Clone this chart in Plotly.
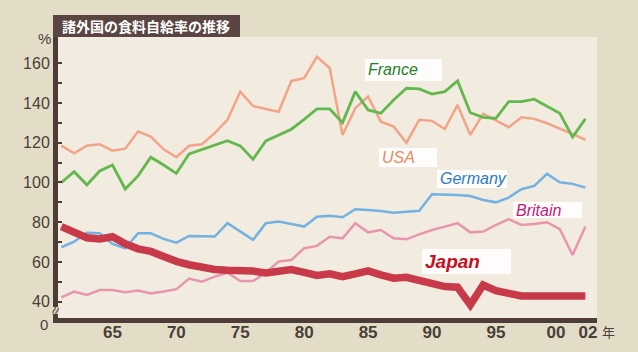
import plotly.graph_objects as go

years = list(range(1961, 2003))

usa = [118.5, 114.7, 118.5, 119.2, 116.0, 117.0, 125.6, 123.1, 116.7, 112.7,
       118.5, 119.2, 124.8, 131.5, 145.7, 138.5, 137.0, 135.6, 151.1, 152.5,
       163.3, 157.5, 123.9, 137.4, 143.2, 130.6, 128.1, 120.0, 131.5, 131.0,
       126.9, 139.0, 123.9, 134.5, 131.2, 127.8, 132.8, 132.0, 129.8, 127.3,
       124.4, 121.4]
france = [99.9, 105.4, 98.8, 105.8, 108.8, 96.7, 103.3, 112.7, 108.8, 104.6,
          114.4, 116.7, 118.9, 121.0, 118.4, 111.7, 120.9, 123.9, 126.8, 131.8,
          137.0, 137.0, 130.1, 145.7, 136.5, 134.8, 141.5, 147.4, 147.1, 144.5,
          145.7, 151.1, 135.1, 132.8, 132.3, 140.7, 140.7, 141.9, 138.5, 134.8,
          122.8, 132.0]
germany = [67.4, 70.2, 74.7, 74.4, 69.1, 66.9, 74.4, 74.4, 71.6, 69.7,
           73.1, 72.8, 72.8, 79.5, 75.3, 71.1, 79.5, 80.3, 79.1, 77.8,
           82.8, 83.3, 82.5, 86.5, 86.2, 85.7, 84.8, 85.3, 85.8, 94.1,
           94.0, 93.7, 93.2, 91.2, 90.0, 92.4, 96.6, 98.3, 104.3, 100.1,
           99.3, 97.4]
britain = [42.2, 45.1, 43.4, 45.9, 45.9, 44.8, 45.6, 44.2, 45.1, 46.3,
           51.6, 50.1, 52.6, 54.6, 50.4, 50.4, 54.6, 60.2, 61.0, 66.9,
           68.1, 72.7, 71.9, 79.5, 74.9, 76.1, 71.9, 71.4, 73.9, 76.1,
           77.8, 79.5, 74.9, 75.3, 78.6, 81.6, 78.6, 79.1, 80.0, 76.5,
           63.5, 77.8]
japan = [77.8, 75.3, 72.2, 71.6, 72.7, 69.1, 66.6, 65.3, 62.5, 60.3,
         58.6, 57.3, 56.2, 55.8, 55.8, 55.4, 54.5, 55.8, 56.2, 54.8,
         53.2, 54.0, 52.6, 54.0, 55.5, 53.5, 51.8, 52.3, 50.9, 49.3,
         47.6, 47.3, 38.4, 48.4, 45.6, 44.2, 42.9, 42.9, 42.9, 42.9,
         42.9, 42.9]

# tick label positions (the last two labels are spread slightly apart, as in the original)
x_tickvals = [1965, 1970, 1975, 1980, 1985, 1990, 1995, 1999.7, 2002.2]
x_ticktext = ["65", "70", "75", "80", "85", "90", "95", "00", "02"]
y_tickvals = [40, 50, 60, 70, 80, 90, 100, 110, 120, 130, 140, 150, 160]
y_ticktext = ["40", "", "60", "", "80", "", "100", "", "120", "", "140", "", "160"]

title_text = "諸外国の食料自給率の推移"

W, H = 638, 352
ML, MR, MT, MB = 58, 41, 37, 34
PW, PH = W - ML - MR, H - MT - MB

def px(x):
    return (x - ML) / PW

def py(y):
    return (H - MB - y) / PH

OUTER = "#e3ddc8"
INNER = "#f2ebe0"
DARK = "#4e3c38"

fig = go.Figure()
series = [
    ("USA", usa, "#f2a488", 2.5),
    ("France", france, "#62b84c", 2.8),
    ("Germany", germany, "#72b2e2", 2.5),
    ("Britain", britain, "#e896ae", 2.5),
    ("Japan", japan, "#c83a4a", 7.5),
]
for name, vals, col, w in series:
    fig.add_trace(go.Scatter(x=years, y=vals, mode="lines", name=name,
                             line=dict(color=col, width=w), hoverinfo="skip"))

fig.update_layout(
    width=W, height=H,
    margin=dict(l=ML, r=MR, t=MT, b=MB, autoexpand=False),
    paper_bgcolor=OUTER, plot_bgcolor=INNER,
    showlegend=False,
    font=dict(family="Liberation Sans, Arial, sans-serif", color=DARK),
)
fig.update_xaxes(range=[1960.74, 2002.91], showgrid=False, zeroline=False,
                 showline=True, linecolor=DARK, linewidth=5, automargin=False,
                 tickvals=x_tickvals, ticktext=["<b>%s</b>" % t for t in x_ticktext],
                 ticks="", tickfont=dict(size=17, color="#4a3e3a"), ticklabelstandoff=-5)
fig.update_yaxes(range=[31.8, 173.2], showgrid=False, zeroline=False,
                 showline=True, linecolor=DARK, linewidth=5, automargin=False,
                 tickvals=y_tickvals, ticktext=y_ticktext, ticks="inside",
                 ticklen=4, tickwidth=2, tickcolor=DARK,
                 tickfont=dict(size=16, color=DARK))

def ann(x, y, text, size, color=DARK, family=None, xanchor="center", **kw):
    f = dict(size=size, color=color)
    if family:
        f["family"] = family
    fig.add_annotation(xref="paper", yref="paper", x=px(x), y=py(y), text=text,
                       showarrow=False, xanchor=xanchor, yanchor="middle",
                       font=f, **kw)

# title box
fig.add_shape(type="rect", xref="paper", yref="paper",
              x0=px(53), x1=px(240), y0=py(37), y1=py(15),
              fillcolor="#5a4542", line=dict(width=0), layer="above")
ann(146, 26, "<b>%s</b>" % title_text, 14, "white", "Noto Sans CJK JP")

# axis extras
ann(44, 38, "%", 15)
ann(44, 324, "0", 15)
fig.add_shape(type="rect", xref="paper", yref="paper",
              x0=px(52), x1=px(59), y0=py(314), y1=py(307),
              fillcolor=OUTER, line=dict(width=0), layer="above")
ann(55, 310.5, "≈", 15, textangle=-70)
ann(608, 331, "年", 13, family="Noto Sans CJK JP")

# series labels
labels = [
    ("France", 365, 442, 59, 81, "#1f8228", 16, False),
    ("USA", 379, 437, 148, 167, "#e88a62", 16, False),
    ("Germany", 437, 507, 170, 188, "#2a7acc", 16, False),
    ("Britain", 513, 582, 202, 218, "#c4187c", 16, False),
    ("Japan", 422, 511, 249, 274, "#c8101e", 19, True),
]
for txt, x0, x1, y0, y1, col, sz, bold in labels:
    fig.add_shape(type="rect", xref="paper", yref="paper",
                  x0=px(x0), x1=px(x1), y0=py(y1), y1=py(y0),
                  fillcolor="white", opacity=0.9, line=dict(width=0))
    t = "<b><i>%s</i></b>" % txt if bold else "<i>%s</i>" % txt
    ann(x0 + 1, (y0 + y1) / 2, t, sz, col,
        "Liberation Sans, Arial, sans-serif", xanchor="left")

fig.write_html("out.html")
